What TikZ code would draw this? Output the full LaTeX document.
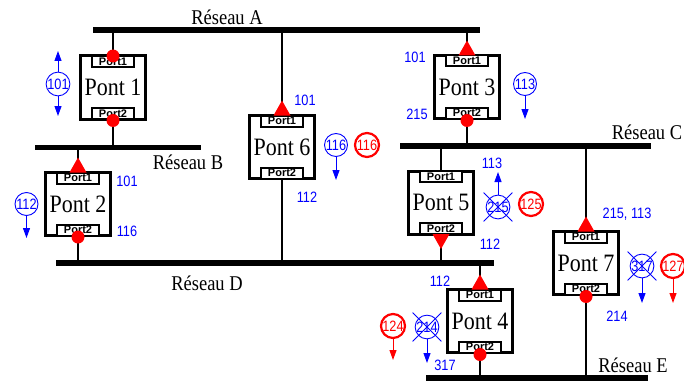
\documentclass[tikz,border=0pt]{standalone}
\usepackage{fontspec}
\setmainfont{Liberation Serif}
\newfontfamily\numfont{Liberation Sans}
\usepackage{graphicx}
\usetikzlibrary{arrows.meta,shapes.misc}
\newcommand\myxs[2]{\scalebox{#1}[1]{#2}}
\begin{document}
\begin{tikzpicture}[x=1pt,y=-1pt,
  bus/.style={line width=5.5pt},
  conn/.style={line width=2.5pt},
  pont/.style={draw, line width=3pt, fill=white, minimum width=65pt, minimum height=63pt, inner sep=0pt, outer sep=0pt, font=\fontsize{25}{25}\selectfont},
  portbox/.style={draw, line width=2pt, fill=white, minimum width=42pt, minimum height=11pt, inner sep=0pt, outer sep=0pt, font=\numfont\bfseries\fontsize{11}{11}\selectfont},
  reseau/.style={font=\fontsize{21}{21}\selectfont, inner sep=0pt},
  num/.style={text=blue, font=\numfont\fontsize{15}{15}\selectfont, inner sep=0pt},
  bcirc/.style={circle, draw=blue, line width=0.9pt, minimum size=23pt, inner sep=0pt, text=blue, font=\numfont\fontsize{15}{15}\selectfont},
  rcirc/.style={circle, draw=red, line width=2.2pt, minimum size=24pt, inner sep=0pt, text=red, font=\numfont\fontsize{15}{15}\selectfont},
  xmark/.style={cross out, draw=blue, line width=0.8pt, minimum size=28pt, inner sep=0pt},
  barrow/.style={blue, line width=1pt, -{Triangle[length=10pt,width=7pt]}},
  rarrow/.style={red, line width=1pt, -{Triangle[length=10pt,width=7pt]}},
  dotm/.style={fill=red},
  trim/.style={fill=red}
]
\useasboundingbox (0,0) rectangle (684,385);

% bus end points
\coordinate (A1) at (93,30);   \coordinate (A2) at (480,30);
\coordinate (B1) at (35,147.5); \coordinate (B2) at (201,147.5);
\coordinate (C1) at (400,146); \coordinate (C2) at (651,146);
\coordinate (D1) at (56,263);  \coordinate (D2) at (494,263);
\coordinate (E1) at (426,378); \coordinate (E2) at (648,378);

% bridge centres
\path (113,87.5) coordinate (q1) (78,204) coordinate (q2) (282,147) coordinate (q6)
      (467,87) coordinate (q3) (441,202.5) coordinate (q5) (586,263) coordinate (q7)
      (480,321) coordinate (q4);

% connectors
\draw[conn] (q1) -- (q1 |- A1);  \draw[conn] (q1) -- (q1 |- B1);
\draw[conn] (q2) -- (q2 |- B1);  \draw[conn] (q2) -- (q2 |- D1);
\draw[conn] (q6) -- (q6 |- A1);  \draw[conn] (q6) -- (q6 |- D1);
\draw[conn] (q3) -- (q3 |- A1);  \draw[conn] (q3) -- (q3 |- C1);
\draw[conn] (q5) -- (q5 |- C1);  \draw[conn] (q5) -- (q5 |- D1);
\draw[conn] (q7) -- (q7 |- C1);  \draw[conn] (q7) -- (q7 |- E1);
\draw[conn] (q4) -- (q4 |- D1);  \draw[conn] (q4) -- (q4 |- E1);

% buses
\draw[bus] (A1) -- (A2);
\draw[bus] (B1) -- (B2);
\draw[bus] (C1) -- (C2);
\draw[bus] (D1) -- (D2);
\draw[bus] (E1) -- (E2);

% bus labels
\node[reseau] (la) at (227,17) {\myxs{0.88}{Réseau A}};
\node[reseau] (lb) at (188,162) {\myxs{0.88}{Réseau B}};
\node[reseau] (lc) at (647,132) {\myxs{0.88}{Réseau C}};
\node[reseau] (ld) at (207,283) {\myxs{0.88}{Réseau D}};
\node[reseau] (le) at (633,365) {\myxs{0.88}{Réseau E}};

% bridge boxes
\foreach \i in {1,2,3,4,5,6,7}{
  \node[pont] (p\i) at (q\i) {\myxs{0.88}{Pont \i}};
  \node[portbox, anchor=north] (p\i a) at (p\i.north) {Port1};
  \node[portbox, anchor=south] (p\i b) at (p\i.south) {Port2};
}

% port markers
\fill[dotm] (p1.north) circle[radius=6.5pt];
\fill[dotm] (p1.south) ++(0,1.5) circle[radius=6.5pt];
\fill[trim] (p2.north) ++(-8.5,0) -- ++(17,0) -- ++(-8.5,-15) -- cycle;
\fill[dotm] (p2.south) ++(0,1.5) circle[radius=6.5pt];
\fill[trim] (p6.north) ++(-8.5,0) -- ++(17,0) -- ++(-8.5,-15) -- cycle;
\fill[trim] (p3.north) ++(-8.5,0) -- ++(17,0) -- ++(-8.5,-15) -- cycle;
\fill[dotm] (p3.south) ++(0,2) circle[radius=6.5pt];
\fill[trim] (p5.south) ++(-8.5,0) -- ++(17,0) -- ++(-8.5,15) -- cycle;
\fill[trim] (p7.north) ++(-8.5,0) -- ++(17,0) -- ++(-8.5,-15) -- cycle;
\fill[dotm] (p7.south) ++(0,2) circle[radius=6.5pt];
\fill[trim] (p4.north) ++(-8.5,0) -- ++(17,0) -- ++(-8.5,-15) -- cycle;
\fill[dotm] (p4.south) ++(0,2) circle[radius=6.5pt];

% Pont 1 annotations
\node[bcirc] (c1) at (58,84) {\myxs{0.85}{101}};
\coordinate (c1u) at (58,51);
\coordinate (c1d) at (58,116);
\draw[barrow] (c1.north) -- (c1u);
\draw[barrow] (c1.south) -- (c1d);

% Pont 2 annotations
\node[num] (n2a) at (127,181) {\myxs{0.85}{101}};
\node[num] (n2b) at (127,231) {\myxs{0.85}{116}};
\node[bcirc] (c2) at (26.5,204) {\myxs{0.85}{112}};
\coordinate (c2d) at (26.5,238);
\draw[barrow] (c2.south) -- (c2d);

% Pont 6 annotations
\node[num] (n6a) at (305,100) {\myxs{0.85}{101}};
\node[num] (n6b) at (307,197) {\myxs{0.85}{112}};
\node[bcirc] (c6) at (336,145) {\myxs{0.85}{116}};
\coordinate (c6d) at (336,180);
\draw[barrow] (c6.south) -- (c6d);
\node[rcirc] (r6) at (367,145) {\myxs{0.85}{116}};

% Pont 3 annotations
\node[num] (n3a) at (415,57) {\myxs{0.85}{101}};
\node[num] (n3b) at (417,114) {\myxs{0.85}{215}};
\node[bcirc] (c3) at (525,84) {\myxs{0.85}{113}};
\coordinate (c3d) at (525,119);
\draw[barrow] (c3.south) -- (c3d);

% Pont 5 annotations
\node[num] (n5a) at (492,163) {\myxs{0.85}{113}};
\node[num] (n5b) at (490,244) {\myxs{0.85}{112}};
\node[bcirc] (c5) at (498,207) {\myxs{0.85}{215}};
\node[xmark] (x5) at (498,207) {};
\coordinate (c5u) at (498,172);
\draw[barrow] (c5.north) -- (c5u);
\node[rcirc] (r5) at (531,204) {\myxs{0.85}{125}};

% Pont 7 annotations
\node[num] (n7a) at (627,214) {\myxs{0.85}{215, 113}};
\node[num] (n7b) at (617,316) {\myxs{0.85}{214}};
\node[bcirc] (c7) at (642,266) {\myxs{0.85}{317}};
\node[xmark] (x7) at (642,266) {};
\coordinate (c7d) at (642,303);
\draw[barrow] (c7.south) -- (c7d);
\node[rcirc] (r7) at (673,266) {\myxs{0.85}{127}};
\coordinate (r7d) at (673,303);
\draw[rarrow] (r7.south) -- (r7d);

% Pont 4 annotations
\node[num] (n4a) at (440,281) {\myxs{0.85}{112}};
\node[num] (n4b) at (445,365) {\myxs{0.85}{317}};
\node[rcirc] (r4) at (393,326) {\myxs{0.85}{124}};
\coordinate (r4d) at (393,360);
\draw[rarrow] (r4.south) -- (r4d);
\node[bcirc] (c4) at (427,327) {\myxs{0.85}{214}};
\node[xmark] (x4) at (427,327) {};
\coordinate (c4d) at (427,363);
\draw[barrow] (c4.south) -- (c4d);
\end{tikzpicture}
\end{document}
